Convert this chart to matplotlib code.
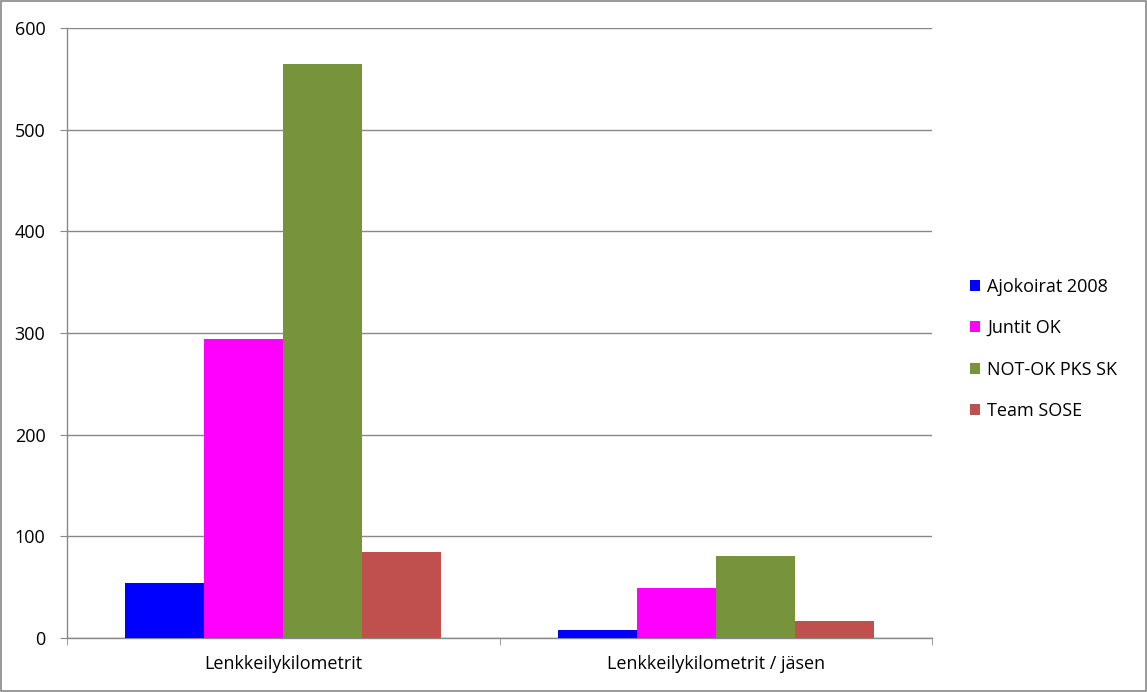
import numpy as np
import matplotlib.pyplot as plt
from matplotlib.patches import Rectangle

plt.rcParams['font.family'] = ['Open Sans', 'DejaVu Sans']

categories = ['Lenkkeilykilometrit', 'Lenkkeilykilometrit / jäsen']
series_names = ['Ajokoirat 2008', 'Juntit OK', 'NOT-OK PKS SK', 'Team SOSE']
ajokoirat = [54, 8]
juntit = [294, 49]
notok = [565, 80.5]
sose = [85, 16.5]
colors = ['#0000ff', '#ff00ff', '#77933c', '#c0504d']

fig = plt.figure(figsize=(11.47, 6.92), dpi=100)
fig.patches.append(Rectangle((0.0005, 0.0008), 0.999, 0.998, transform=fig.transFigure,
                             fill=False, edgecolor='#888888', linewidth=1.2))
ax = fig.add_axes([0.0584, 0.078, 0.7542, 0.8815])

values = [ajokoirat, juntit, notok, sose]
x = np.arange(len(categories))
w = 0.1825
for i, (vals, name) in enumerate(zip(values, series_names)):
    ax.bar(x + (i - 1.5) * w, vals, w, color=colors[i], label=name, zorder=3)

ax.set_xlim(-0.5, 1.5)
ax.set_ylim(0, 600)
ax.set_yticks(range(0, 601, 100))
ax.yaxis.grid(True, color='#888888', linewidth=1.0, zorder=0)
for s in ['top', 'right']:
    ax.spines[s].set_visible(False)
for s in ['left', 'bottom']:
    ax.spines[s].set_color('#888888')
    ax.spines[s].set_linewidth(1.0)

ax.set_xticks(x)
ax.set_xticklabels(categories, fontsize=13)
ax.tick_params(axis='x', length=0, pad=12)
ax.set_xticks([-0.5, 0.5, 1.5], minor=True)
ax.tick_params(axis='x', which='minor', length=5, color='#888888')
ax.tick_params(axis='y', length=5, color='#888888', labelsize=13, pad=10.5)

leg = fig.legend(loc='center left', bbox_to_anchor=(0.8315, 0.496), frameon=False,
                 fontsize=13, handlelength=0.55, handleheight=0.55, handletextpad=0.4,
                 labelspacing=1.3)

fig.savefig('out.png', dpi=100)
